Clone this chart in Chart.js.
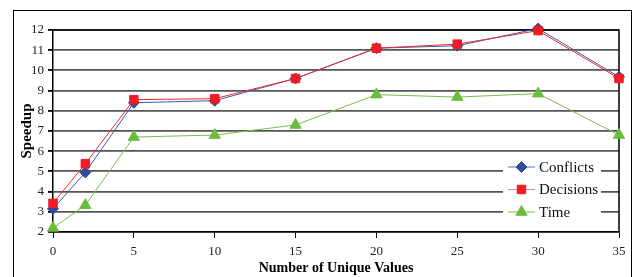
<!DOCTYPE html>
<html>
<head>
<meta charset="utf-8">
<script src="https://cdn.jsdelivr.net/npm/chart.js@4/dist/chart.umd.min.js"></script>
<style>
  html, body { margin: 0; padding: 0; background: #fff; }
  #wrap { width: 633px; height: 277px; }
</style>
</head>
<body>
<div id="wrap"><canvas id="speedup-chart" width="633" height="277"></canvas></div>
<script>
const uniqueValues = [0, 2, 5, 10, 15, 20, 25, 30, 35];
const conflicts = [3.15, 4.95, 8.4, 8.5, 9.6, 11.1, 11.22, 12.07, 9.68];
const decisions = [3.42, 5.38, 8.55, 8.6, 9.6, 11.1, 11.3, 11.97, 9.6];
const time = [2.2, 3.33, 6.7, 6.8, 7.3, 8.8, 8.68, 8.85, 6.8];

const serif = "'Liberation Serif', 'Times New Roman', serif";

function toPoints(values) {
  return values.map((v, i) => ({ x: uniqueValues[i], y: v }));
}

// plot frame and outer box
const framePlugin = {
  id: "frame",
  beforeDraw(chart) {
    const ctx = chart.ctx;
    ctx.save();
    ctx.strokeStyle = "#000";
    ctx.lineWidth = 1;
    ctx.strokeRect(13.5, 10.5, 618, 300);
    ctx.restore();
  },
  beforeDatasetsDraw(chart) {
    const a = chart.chartArea;
    const ctx = chart.ctx;
    ctx.save();
    ctx.strokeStyle = "#000";
    ctx.lineWidth = 1.5;
    ctx.beginPath();
    ctx.moveTo(a.left, a.top);
    ctx.lineTo(a.right, a.top);
    ctx.lineTo(a.right, a.bottom);
    ctx.stroke();
    ctx.restore();
  },
};

// legend box in the lower right of the plot
const legendPlugin = {
  id: "boxLegend",
  afterDraw(chart) {
    const ctx = chart.ctx;
    ctx.save();
    ctx.fillStyle = "#fff";
    ctx.fillRect(503, 153, 98, 68);
    ctx.font = "15px " + serif;
    ctx.textBaseline = "middle";
    chart.data.datasets.forEach((ds, i) => {
      const y = 167 + i * 22.5;
      ctx.strokeStyle = ds.legendLine;
      ctx.lineWidth = 1;
      ctx.beginPath();
      ctx.moveTo(508, y);
      ctx.lineTo(535, y);
      ctx.stroke();
      ctx.fillStyle = ds.pointBackgroundColor;
      ctx.strokeStyle = ds.pointBorderColor;
      Chart.helpers.drawPoint(ctx, {
        pointStyle: ds.pointStyle,
        radius: ds.pointRadius,
        rotation: 0,
        borderWidth: 1,
      }, 521.5, y);
      ctx.fillStyle = "#111";
      ctx.fillText(ds.label, 539, y + 1);
    });
    ctx.restore();
  },
};

new Chart(document.getElementById("speedup-chart"), {
  type: "line",
  data: {
    datasets: [
      {
        label: "Conflicts",
        data: toPoints(conflicts),
        order: 1,
        borderColor: "#3e5aa8",
        legendLine: "#5a72b8",
        borderWidth: 1,
        pointStyle: "rectRot",
        pointRadius: 5.5,
        pointBackgroundColor: "#2f4d9c",
        pointBorderColor: "#2f4d9c",
        clip: false,
      },
      {
        label: "Decisions",
        data: toPoints(decisions),
        order: 0,
        borderColor: "#ec2a30",
        legendLine: "#f08a8c",
        borderWidth: 1,
        pointStyle: "rect",
        pointRadius: 6,
        pointBackgroundColor: "#ee1d25",
        pointBorderColor: "#ee1d25",
        clip: false,
      },
      {
        label: "Time",
        data: toPoints(time),
        order: 2,
        borderColor: "#78bf4a",
        legendLine: "#78bf4a",
        borderWidth: 1,
        pointStyle: "triangle",
        pointRadius: 6.5,
        pointBackgroundColor: "#6cbb3f",
        pointBorderColor: "#6cbb3f",
        clip: false,
      },
    ],
  },
  options: {
    responsive: false,
    animation: false,
    layout: { padding: { left: 0, top: 30, right: 14, bottom: 0 } },
    plugins: {
      legend: { display: false },
      tooltip: { enabled: false },
    },
    scales: {
      x: {
        type: "linear",
        min: 0,
        max: 35,
        ticks: {
          stepSize: 5,
          color: "#222",
          font: { family: serif, size: 13 },
          padding: 6,
        },
        grid: {
          drawOnChartArea: false,
          drawTicks: true,
          tickLength: 6,
          tickColor: "#000",
        },
        border: { color: "#000", width: 1.5 },
        title: {
          display: true,
          text: "Number of Unique Values",
          color: "#000",
          font: { family: serif, size: 14, weight: "bold" },
          padding: { top: 0, bottom: 0 },
        },
        afterFit(scale) {
          scale.height = 45;
        },
      },
      y: {
        min: 2,
        max: 12,
        ticks: {
          stepSize: 1,
          color: "#222",
          font: { family: serif, size: 13 },
          padding: 4,
        },
        grid: {
          color: "#555",
          lineWidth: 1.8,
          tickLength: 5,
          tickColor: "#000",
        },
        border: { color: "#000", width: 1.5 },
        title: {
          display: true,
          text: "Speedup",
          color: "#000",
          font: { family: serif, size: 15, weight: "bold" },
          padding: { top: 18, bottom: 0 },
        },
        afterFit(scale) {
          scale.width = 53;
        },
      },
    },
  },
  plugins: [framePlugin, legendPlugin],
});
</script>
</body>
</html>
